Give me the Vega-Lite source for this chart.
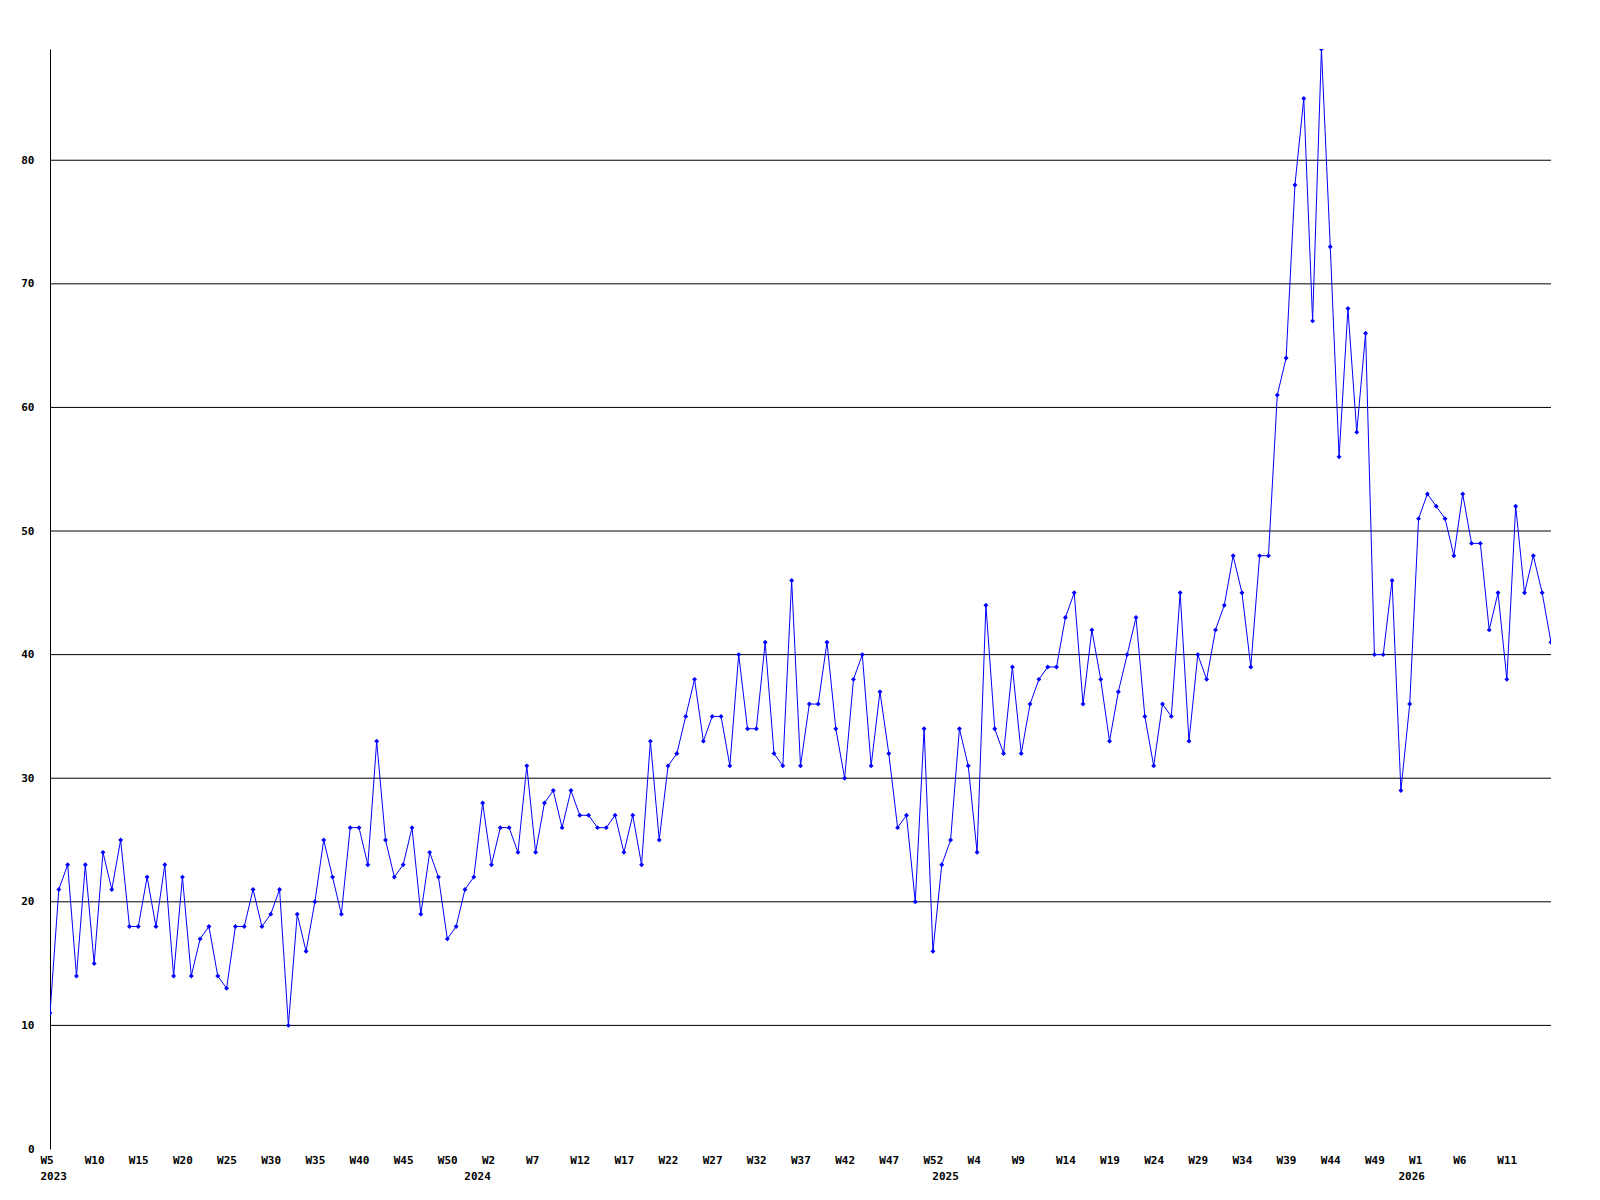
{
  "$schema": "https://vega.github.io/schema/vega-lite/v6.json",
  "width": 1501,
  "height": 1100,
  "autosize": {"type": "none"},
  "padding": {"left": 50, "top": 49, "right": 49, "bottom": 51},
  "background": "white",
  "config": {"view": {"stroke": null}},
  "data": {"values": [
    {"i":0,"v":11},{"i":1,"v":21},{"i":2,"v":23},{"i":3,"v":14},{"i":4,"v":23},{"i":5,"v":15},{"i":6,"v":24},{"i":7,"v":21},{"i":8,"v":25},{"i":9,"v":18},
    {"i":10,"v":18},{"i":11,"v":22},{"i":12,"v":18},{"i":13,"v":23},{"i":14,"v":14},{"i":15,"v":22},{"i":16,"v":14},{"i":17,"v":17},{"i":18,"v":18},{"i":19,"v":14},
    {"i":20,"v":13},{"i":21,"v":18},{"i":22,"v":18},{"i":23,"v":21},{"i":24,"v":18},{"i":25,"v":19},{"i":26,"v":21},{"i":27,"v":10},{"i":28,"v":19},{"i":29,"v":16},
    {"i":30,"v":20},{"i":31,"v":25},{"i":32,"v":22},{"i":33,"v":19},{"i":34,"v":26},{"i":35,"v":26},{"i":36,"v":23},{"i":37,"v":33},{"i":38,"v":25},{"i":39,"v":22},
    {"i":40,"v":23},{"i":41,"v":26},{"i":42,"v":19},{"i":43,"v":24},{"i":44,"v":22},{"i":45,"v":17},{"i":46,"v":18},{"i":47,"v":21},{"i":48,"v":22},{"i":49,"v":28},
    {"i":50,"v":23},{"i":51,"v":26},{"i":52,"v":26},{"i":53,"v":24},{"i":54,"v":31},{"i":55,"v":24},{"i":56,"v":28},{"i":57,"v":29},{"i":58,"v":26},{"i":59,"v":29},
    {"i":60,"v":27},{"i":61,"v":27},{"i":62,"v":26},{"i":63,"v":26},{"i":64,"v":27},{"i":65,"v":24},{"i":66,"v":27},{"i":67,"v":23},{"i":68,"v":33},{"i":69,"v":25},
    {"i":70,"v":31},{"i":71,"v":32},{"i":72,"v":35},{"i":73,"v":38},{"i":74,"v":33},{"i":75,"v":35},{"i":76,"v":35},{"i":77,"v":31},{"i":78,"v":40},{"i":79,"v":34},
    {"i":80,"v":34},{"i":81,"v":41},{"i":82,"v":32},{"i":83,"v":31},{"i":84,"v":46},{"i":85,"v":31},{"i":86,"v":36},{"i":87,"v":36},{"i":88,"v":41},{"i":89,"v":34},
    {"i":90,"v":30},{"i":91,"v":38},{"i":92,"v":40},{"i":93,"v":31},{"i":94,"v":37},{"i":95,"v":32},{"i":96,"v":26},{"i":97,"v":27},{"i":98,"v":20},{"i":99,"v":34},
    {"i":100,"v":16},{"i":101,"v":23},{"i":102,"v":25},{"i":103,"v":34},{"i":104,"v":31},{"i":105,"v":24},{"i":106,"v":44},{"i":107,"v":34},{"i":108,"v":32},{"i":109,"v":39},
    {"i":110,"v":32},{"i":111,"v":36},{"i":112,"v":38},{"i":113,"v":39},{"i":114,"v":39},{"i":115,"v":43},{"i":116,"v":45},{"i":117,"v":36},{"i":118,"v":42},{"i":119,"v":38},
    {"i":120,"v":33},{"i":121,"v":37},{"i":122,"v":40},{"i":123,"v":43},{"i":124,"v":35},{"i":125,"v":31},{"i":126,"v":36},{"i":127,"v":35},{"i":128,"v":45},{"i":129,"v":33},
    {"i":130,"v":40},{"i":131,"v":38},{"i":132,"v":42},{"i":133,"v":44},{"i":134,"v":48},{"i":135,"v":45},{"i":136,"v":39},{"i":137,"v":48},{"i":138,"v":48},{"i":139,"v":61},
    {"i":140,"v":64},{"i":141,"v":78},{"i":142,"v":85},{"i":143,"v":67},{"i":144,"v":89},{"i":145,"v":73},{"i":146,"v":56},{"i":147,"v":68},{"i":148,"v":58},{"i":149,"v":66},
    {"i":150,"v":40},{"i":151,"v":40},{"i":152,"v":46},{"i":153,"v":29},{"i":154,"v":36},{"i":155,"v":51},{"i":156,"v":53},{"i":157,"v":52},{"i":158,"v":51},{"i":159,"v":48},
    {"i":160,"v":53},{"i":161,"v":49},{"i":162,"v":49},{"i":163,"v":42},{"i":164,"v":45},{"i":165,"v":38},{"i":166,"v":52},{"i":167,"v":45},{"i":168,"v":48},{"i":169,"v":45},
    {"i":170,"v":41}
  ]},
  "encoding": {
    "x": {
      "field": "i", "type": "quantitative",
      "scale": {"domain": [0, 170], "nice": false, "zero": false},
      "axis": {
        "title": null,
        "values": [0,5,10,15,20,25,30,35,40,45,48,50,55,60,65,70,75,80,85,90,95,100,101,105,110,115,120,125,130,135,140,145,150,153.8,155,160,165],
        "labelExpr": "datum.value==0 ? ['W5','2023'] : datum.value==48 ? ['','2024'] : datum.value==101 ? ['','2025'] : datum.value==153.8 ? ['','2026'] : datum.value<50 ? 'W'+(datum.value+5) : datum.value<=100 ? 'W'+(datum.value-48) : datum.value<=150 ? 'W'+(datum.value-101) : 'W'+(datum.value-154)",
        "domain": false, "ticks": false, "grid": false,
        "labelAlign": "left", "labelOffset": -10, "labelPadding": 5,
        "labelBaseline": "top", "labelLineHeight": 16,
        "labelFont": "DejaVu Sans Mono", "labelFontWeight": "bold", "labelFontSize": 11, "labelColor": "black",
        "labelOverlap": false, "labelBound": false, "labelFlush": false
      }
    },
    "y": {
      "field": "v", "type": "quantitative",
      "scale": {"domain": [0, 89], "nice": false, "zero": true},
      "axis": {
        "title": null,
        "values": [0,10,20,30,40,50,60,70,80],
        "domain": true, "domainColor": "black", "domainWidth": 1,
        "ticks": false, "grid": false,
        "labelPadding": 16,
        "labelFont": "DejaVu Sans Mono", "labelFontWeight": "bold", "labelFontSize": 11, "labelColor": "black"
      }
    }
  },
  "layer": [
    {
      "data": {"values": [{"g":10},{"g":20},{"g":30},{"g":40},{"g":50},{"g":60},{"g":70},{"g":80}]},
      "mark": {"type": "rule", "color": "black", "strokeWidth": 1},
      "encoding": {"y": {"field": "g", "type": "quantitative"}, "x": null}
    },
    {
      "mark": {"type": "line", "color": "#0000ff", "strokeWidth": 1, "clip": true}
    },
    {
      "mark": {"type": "point", "shape": "diamond", "filled": true, "color": "#0000ff", "size": 24, "opacity": 1, "clip": true}
    }
  ]
}
